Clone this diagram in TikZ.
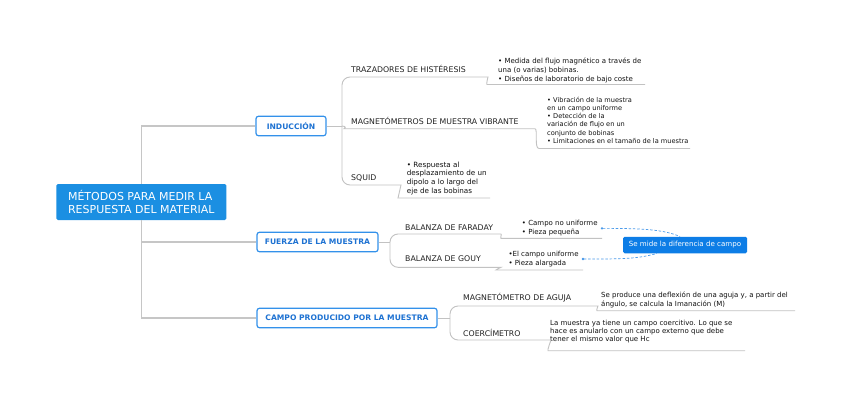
\documentclass[tikz,border=0pt]{standalone}
\usepackage{fontspec}
\setmainfont{DejaVu Sans}
\usetikzlibrary{arrows.meta}
\definecolor{rootblue}{HTML}{1B8FE2}
\definecolor{boxblue}{HTML}{3391EA}
\definecolor{boxtext}{HTML}{1E72D2}
\definecolor{smblue}{HTML}{0D7DE6}
\definecolor{dashblue}{HTML}{4B9BEA}
\definecolor{rootline}{HTML}{C6C6C6}
\definecolor{branchline}{HTML}{C2C2C2}
\definecolor{topictext}{HTML}{222222}
\definecolor{notetext}{HTML}{111111}
\tikzset{
  rootnode/.style={fill=rootblue, text=white, rounded corners=1.5pt, minimum width=170pt, minimum height=36pt, inner sep=0pt, align=left, font=\fontsize{11}{12.5}\selectfont},
  mainbox/.style={draw=boxblue, fill=white, line width=1.2pt, rounded corners=2.5pt, text=boxtext, minimum height=19.5pt, inner sep=0pt, font=\fontsize{7.6}{9}\selectfont\bfseries},
  topic/.style={anchor=base west, inner sep=0pt, text=topictext, font=\fontsize{7.8}{9}\selectfont},
  note/.style={anchor=base west, inner sep=0pt, align=left, text=notetext, font=\fontsize{7}{9}\selectfont},
  smallnote/.style={anchor=base west, inner sep=0pt, align=left, text=notetext, font=\fontsize{6.6}{8.2}\selectfont},
  floatnode/.style={fill=smblue, text=white, rounded corners=1.5pt, minimum width=124pt, minimum height=16.5pt, inner sep=0pt, font=\fontsize{7.1}{9}\selectfont},
  rootconn/.style={draw=rootline, line width=1.3pt},
  branch/.style={draw=branchline, line width=0.9pt, rounded corners=8pt},
  dashconn/.style={draw=dashblue, line width=0.7pt, dash pattern=on 2.5pt off 1.8pt},
}
\begin{document}
\begin{tikzpicture}[x=1pt,y=-1pt]
\fill[white] (0,0) rectangle (848,404);
\useasboundingbox (0,0) rectangle (848,404);

% root and main boxes
\node[rootnode] (root) at (141.3,202) {MÉTODOS PARA MEDIR LA\\RESPUESTA DEL MATERIAL};
\node[mainbox, minimum width=70pt] (ind) at (291,126) {INDUCCIÓN};
\node[mainbox, minimum width=121pt] (fue) at (317.5,242) {FUERZA DE LA MUESTRA};
\node[mainbox, minimum width=180pt] (cam) at (347,318) {CAMPO PRODUCIDO POR LA MUESTRA};

\draw[rootconn] (root.north) |- (ind.west);
\draw[rootconn] (root.south) |- (cam.west);
\draw[rootconn] (root.south |- fue.west) -- (fue.west);

% topics
\node[topic] (traz) at (351,72.5) {TRAZADORES DE HISTÉRESIS};
\node[topic] (mag) at (351,124) {MAGNETÓMETROS DE MUESTRA VIBRANTE};
\node[topic] (squid) at (351,180.5) {SQUID};
\node[topic] (far) at (405,230) {BALANZA DE FARADAY};
\node[topic] (gouy) at (405,261.5) {BALANZA DE GOUY};
\node[topic] (aguja) at (463,300.7) {MAGNETÓMETRO DE AGUJA};
\node[topic] (coerc) at (463,336) {COERCÍMETRO};

% notes (anchor at the baseline of the last line)
\node[note] (n1) at (498,81.5) {• Medida del flujo magnético a través de\\una (o varias) bobinas.\\• Diseños de laboratorio de bajo coste};
\node[smallnote] (n2) at (547,143.3) {• Vibración de la muestra\\en un campo uniforme\\• Detección de la\\variación de flujo en un\\conjunto de bobinas\\• Limitaciones en el tamaño de la muestra};
\node[note, font=\fontsize{7.2}{8.6}\selectfont] (n3) at (406.7,193.1) {• Respuesta al\\desplazamiento de un\\dipolo a lo largo del\\eje de las bobinas};
\node[note] (n4) at (521.7,234.8) {• Campo no uniforme\\• Pieza pequeña};
\node[note] (n5) at (508.3,265.5) {•El campo uniforme\\• Pieza alargada};
\node[note] (n6) at (601,306.5) {Se produce una deflexión de una aguja y, a partir del\\ángulo, se calcula la Imanación (M)};
\node[note, font=\fontsize{7}{8}\selectfont] (n7) at (550,341.8) {La muestra ya tiene un campo coercitivo. Lo que se\\hace es anularlo con un campo externo que debe\\tener el mismo valor que Hc};

% floating node
\node[floatnode] (sm) at (685,245) {Se mide la diferencia de campo};

% induccion branches
\coordinate (jI) at (342,126);
\draw[branch] (ind.east) -- (jI);
\draw[branch] (jI) |- (480,77) .. controls (488,77) and (486,84.5) .. (495,84.5) -- (645,84.5);
\draw[branch] (jI) .. controls (346,126) and (346,128.7) .. (352,128.7) -- (527,128.7) .. controls (538,128.7) and (534,148.5) .. (547,148.5) -- (690,148.5);
\draw[branch] (jI) |- (393,185) .. controls (401,185) and (398,198) .. (406,198) -- (490,198);

% fuerza branches
\coordinate (jF) at (390,242);
\draw[branch] (fue.east) -- (jF);
\draw[branch] (jF) |- (493,234) .. controls (502,234) and (500,238.3) .. (509,238.3) -- (602,238.3);
\draw[branch] (jF) |- (493,267.3) .. controls (499,267.3) and (497,270) .. (504,270) -- (583,270);

% campo branches
\coordinate (jC) at (450,318);
\draw[branch] (cam.east) -- (jC);
\draw[branch] (jC) |- (590,306) .. controls (598,306) and (596,310.7) .. (605,310.7) -- (795,310.7);
\draw[branch] (jC) |- (543,340) .. controls (551,340) and (547,350.7) .. (556,350.7) -- (745,350.7);

% dashed connectors
\draw[dashconn, {Circle[length=2.4pt]}-] ([xshift=3pt]n4.east) .. controls +(42,0) and +(-16,-7) .. ([xshift=-5pt]sm.north);
\draw[dashconn, {Circle[length=2.4pt]}-] ([xshift=3pt]n5.east) .. controls +(45,0) and +(-18,5) .. ([xshift=34pt]sm.south west);
\end{tikzpicture}
\end{document}
